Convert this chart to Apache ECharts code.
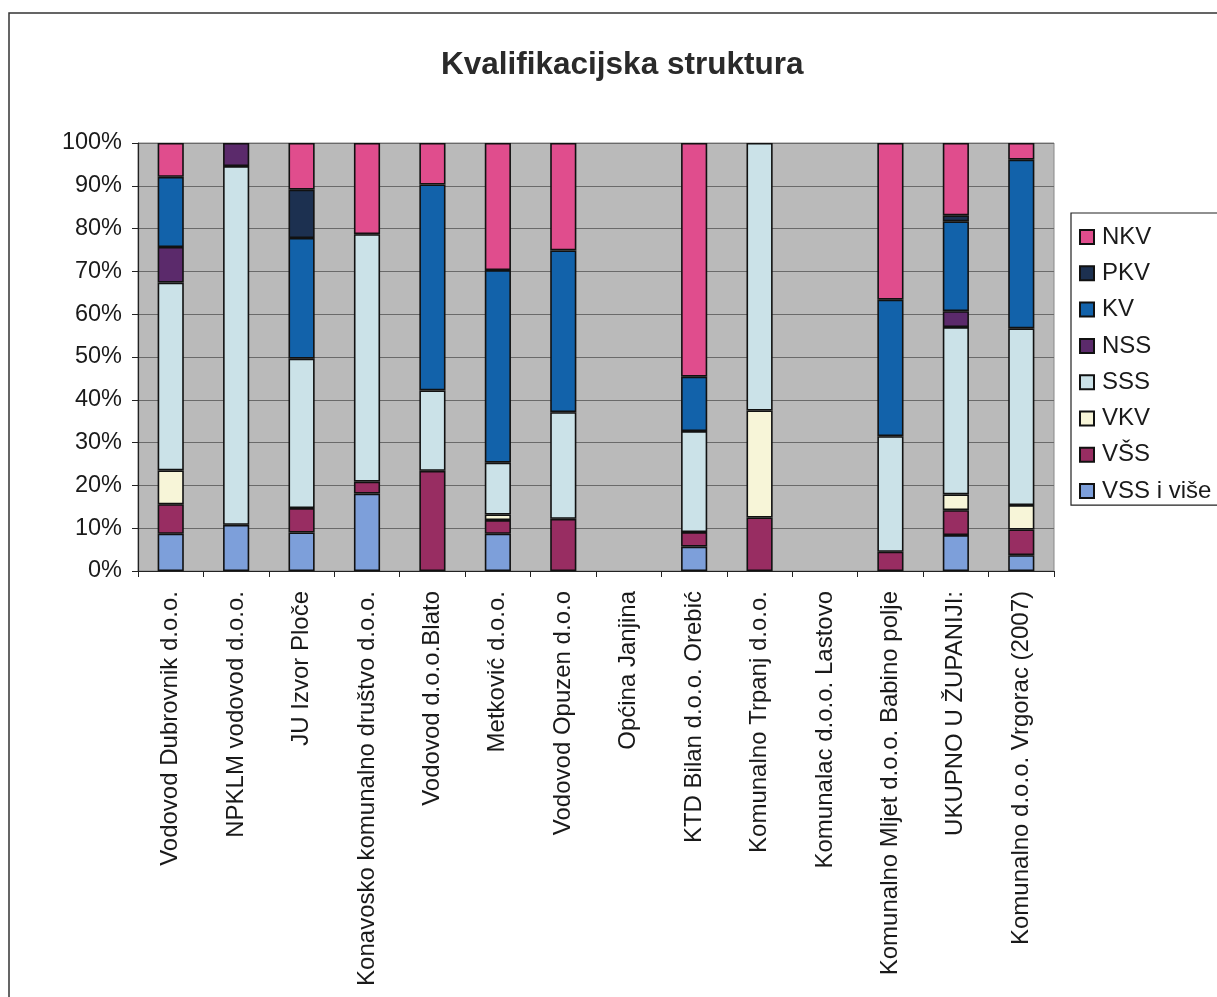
<!DOCTYPE html>
<html>
<head>
<meta charset="utf-8">
<script src="https://cdn.jsdelivr.net/npm/echarts@6/dist/echarts.min.js"></script>
<style>
html,body{margin:0;padding:0;background:#fff;}
#chart{width:1217px;height:997px;}
</style>
</head>
<body>
<div id="chart"></div>
<script>
const categories = [
  'Vodovod Dubrovnik d.o.o.',
  'NPKLM vodovod d.o.o.',
  'JU Izvor Ploče',
  'Konavosko komunalno društvo d.o.o.',
  'Vodovod d.o.o.Blato',
  'Metković d.o.o.',
  'Vodovod Opuzen d.o.o',
  'Općina Janjina',
  'KTD Bilan d.o.o. Orebić',
  'Komunalno Trpanj d.o.o.',
  'Komunalac d.o.o. Lastovo',
  'Komunalno Mljet d.o.o. Babino polje',
  'UKUPNO U ŽUPANIJI:',
  'Komunalno d.o.o. Vrgorac (2007)'
];
// values in percent, bottom-to-top stacking order
const vssIVise = [8.7, 10.8, 9.0, 18.1, null, 8.7, null, null, 5.7, null, null, null, 8.4, 3.7];
const vss      = [6.9, null, 5.7, 2.8, 23.4, 3.2, 12.2, null, 3.4, 12.5, null, 4.5, 5.8, 6.0];
const vkv      = [7.9, null, null, null, null, 1.3, null, null, null, 25.0, null, null, 3.7, 5.7];
const sss      = [43.9, 83.8, 34.9, 57.8, 18.8, 12.1, 24.9, null, 23.6, 62.5, null, 27.0, 39.1, 41.3];
const nss      = [8.3, 5.4, null, null, null, null, null, null, null, null, null, null, 3.7, null];
const kv       = [16.4, null, 28.2, null, 48.1, 45.0, 37.8, null, 12.7, null, null, 31.9, 21.0, 39.4];
const pkv      = [null, null, 11.3, null, null, null, null, null, null, null, null, null, 1.4, null];
const nkv      = [7.9, null, 10.9, 21.3, 9.7, 29.7, 25.1, null, 54.6, null, null, 36.6, 16.9, 3.9];

const seriesNames = ['VSS i više', 'VŠS', 'VKV', 'SSS', 'NSS', 'KV', 'PKV', 'NKV'];
const seriesData = [vssIVise, vss, vkv, sss, nss, kv, pkv, nkv];
const seriesColors = ['#7d9fda', '#982d62', '#f7f5d8', '#cbe2e8', '#5b2a6b', '#1262aa', '#1c3050', '#e04d8d'];
const yTicks = [0, 10, 20, 30, 40, 50, 60, 70, 80, 90, 100];

const FONT = '"Liberation Sans", Arial, sans-serif';
const chart = echarts.init(document.getElementById('chart'));
chart.setOption({
  backgroundColor: '#ffffff',
  animation: false,
  title: {
    text: 'Kvalifikacijska struktura',
    left: 436,
    top: 44,
    textStyle: { fontFamily: FONT, fontSize: 31.5, fontWeight: 'bold', color: '#2a2a2a' }
  },
  graphic: [{
    type: 'rect',
    shape: { x: 9, y: 13, width: 1260, height: 1050 },
    style: { fill: null, stroke: '#333', lineWidth: 1.5 },
    silent: true,
    z: -1
  }],
  legend: {
    orient: 'vertical',
    left: 1071,
    top: 213,
    data: seriesNames.slice().reverse(),
    itemWidth: 14,
    itemHeight: 14,
    itemGap: 12.3,
    padding: [12, 30, 2, 8],
    borderColor: '#222',
    borderWidth: 1.2,
    backgroundColor: '#fff',
    icon: 'rect',
    textStyle: { fontFamily: FONT, fontSize: 24, color: '#1a1a1a', lineHeight: 24, padding: [0, 0, 0, 3] }
  },
  grid: { left: 138, right: 163, top: 143, bottom: 426, containLabel: false,
          show: true, backgroundColor: '#bababa', borderColor: '#888', borderWidth: 1 },
  xAxis: {
    type: 'category',
    data: categories,
    axisLine: { lineStyle: { color: '#222', width: 1.2 } },
    axisTick: { show: true, length: 6, alignWithLabel: false, lineStyle: { color: '#222' } },
    axisLabel: { rotate: 90, margin: 20, interval: 0, fontFamily: FONT, fontSize: 24, color: '#1a1a1a' },
    splitLine: { show: false }
  },
  yAxis: {
    type: 'value',
    min: 0, max: 100, interval: 10,
    axisLine: { show: true, lineStyle: { color: '#222', width: 1.2 } },
    axisTick: { show: true, length: 6, lineStyle: { color: '#222' } },
    axisLabel: { margin: 16, fontFamily: FONT, fontSize: 23.5, color: '#1a1a1a',
                 formatter: v => (yTicks.includes(v) ? v + '%' : '') },
    splitLine: { show: true, lineStyle: { color: '#6a6a6a', width: 1.2 } }
  },
  series: seriesNames.map((name, i) => ({
    name: name,
    type: 'bar',
    stack: 'total',
    data: seriesData[i],
    barWidth: '40%',
    itemStyle: { color: seriesColors[i], borderColor: '#111', borderWidth: 1.6 }
  }))
});
</script>
</body>
</html>
